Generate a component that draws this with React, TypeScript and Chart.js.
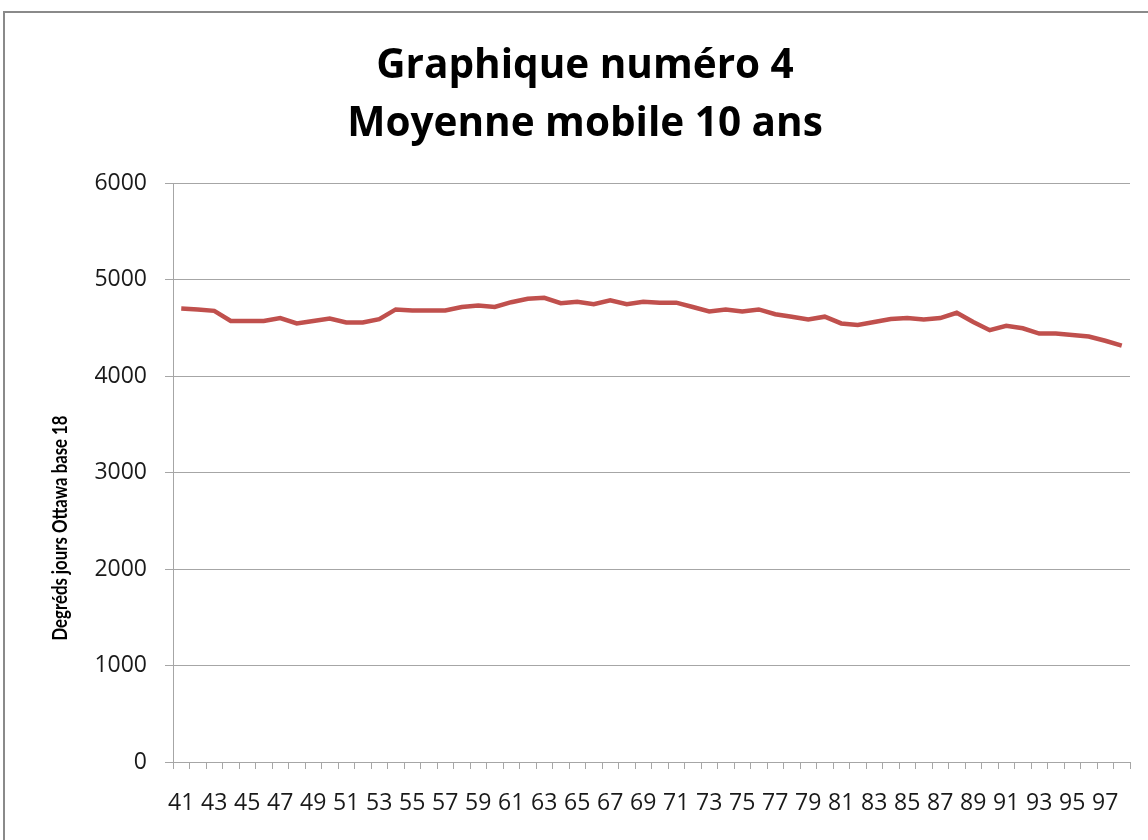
import React, { useEffect, useRef } from 'react';
import { Chart, registerables } from 'chart.js';

Chart.register(...registerables);

const years = [
  '41', '42', '43', '44', '45', '46', '47', '48', '49', '50',
  '51', '52', '53', '54', '55', '56', '57', '58', '59', '60',
  '61', '62', '63', '64', '65', '66', '67', '68', '69', '70',
  '71', '72', '73', '74', '75', '76', '77', '78', '79', '80',
  '81', '82', '83', '84', '85', '86', '87', '88', '89', '90',
  '91', '92', '93', '94', '95', '96', '97', '98',
];

const movingAverage = [
  4700, 4690, 4675, 4570, 4570, 4570, 4600, 4545, 4570, 4595,
  4555, 4555, 4590, 4690, 4680, 4680, 4680, 4715, 4730, 4715,
  4765, 4800, 4810, 4755, 4770, 4745, 4785, 4745, 4770, 4760,
  4760, 4715, 4670, 4690, 4670, 4690, 4640, 4615, 4585, 4615,
  4545, 4530, 4560, 4590, 4600, 4585, 4600, 4655, 4560, 4475,
  4520, 4495, 4440, 4440, 4425, 4410, 4365, 4315,
];

const yMin = 0;
const yMax = 6000;
const yStep = 1000;

const titleLines = ['Graphique numéro 4', 'Moyenne mobile 10 ans'];
const yAxisTitle = 'Degréds jours Ottawa base 18';

const yTitlePlugin = {
  id: 'yTitleCustom',
  afterDraw(chart: any) {
    const ctx = chart.ctx;
    ctx.save();
    ctx.translate(60, 528);
    ctx.rotate(-Math.PI / 2);
    ctx.scale(1, 1.25);
    ctx.font = 'bold 16.8px Lato';
    ctx.fillStyle = '#000000';
    ctx.textAlign = 'center';
    ctx.textBaseline = 'middle';
    ctx.fillText(yAxisTitle, 0, 0);
    ctx.restore();
  },
};

export default function App() {
  const canvasRef = useRef<HTMLCanvasElement | null>(null);

  useEffect(() => {
    if (!canvasRef.current) return;
    const chart = new Chart(canvasRef.current, {
      type: 'line',
      data: {
        labels: years,
        datasets: [
          {
            label: 'Moyenne mobile 10 ans',
            data: movingAverage,
            borderColor: '#C0504D',
            backgroundColor: '#C0504D',
            borderWidth: 4.5,
            pointRadius: 0,
            tension: 0,
            fill: false,
          },
        ],
      },
      options: {
        responsive: false,
        animation: false,
        layout: { padding: { left: 40, right: 18, top: 0, bottom: 0 } },
        plugins: {
          legend: { display: false },
          tooltip: { enabled: false },
          title: {
            display: true,
            text: titleLines,
            color: '#000000',
            font: { family: '"Open Sans"', size: 40.5, weight: 'bold', lineHeight: 1.42 },
            padding: { top: 38, bottom: 30 },
          },
        },
        scales: {
          x: {
            type: 'category',
            offset: true,
            grid: {
              display: true,
              drawOnChartArea: false,
              drawTicks: true,
              tickLength: 7,
              color: '#a6a6a6',
              offset: true,
            },
            border: { display: true, color: '#a6a6a6', width: 1 },
            ticks: {
              autoSkip: false,
              maxRotation: 0,
              minRotation: 0,
              padding: 21,
              color: '#1a1a1a',
              font: { family: '"Open Sans"', size: 23 },
              callback: (_v: any, i: number) => (i % 2 === 0 ? years[i] : ''),
            },
            afterFit: (scale: any) => {
              scale.height = 78;
            },
          },
          y: {
            min: yMin,
            max: yMax,
            grid: {
              color: '#a6a6a6',
              drawTicks: true,
              tickLength: 8,
            },
            border: { display: true, color: '#a6a6a6', width: 1 },
            ticks: {
              stepSize: yStep,
              padding: 18,
              color: '#1a1a1a',
              font: { family: '"Open Sans"', size: 23 },
              callback: (v: any) => String(v),
            },
            afterFit: (scale: any) => {
              scale.width = 133;
            },
          },
        },
      },
      plugins: [yTitlePlugin],
    });
    return () => chart.destroy();
  }, []);

  return (
    <div
      style={{
        position: 'fixed',
        left: 0,
        top: 0,
        width: 1148,
        height: 840,
        overflow: 'hidden',
        background: '#ffffff',
      }}
    >
      <div
        style={{
          position: 'absolute',
          left: 3,
          top: 11,
          width: 1300,
          height: 1000,
          border: '2px solid #8a8a8a',
        }}
      />
      <canvas
        ref={canvasRef}
        width={1148}
        height={840}
        style={{ position: 'absolute', left: 0, top: 0, width: 1148, height: 840 }}
      />
    </div>
  );
}
